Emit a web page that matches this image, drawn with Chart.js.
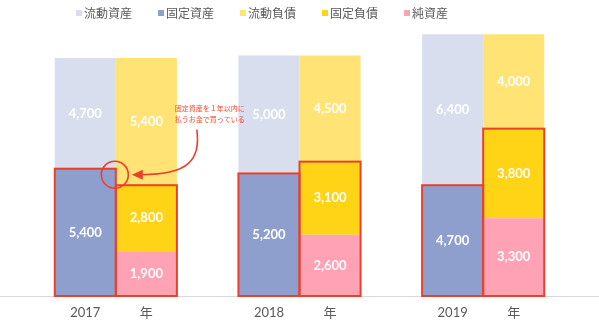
<!DOCTYPE html>
<html>
<head>
<meta charset="utf-8">
<script src="https://cdn.jsdelivr.net/npm/chart.js@4/dist/chart.umd.min.js"></script>
<style>
  html, body { margin: 0; padding: 0; background: #fff; }
  #wrap { width: 599px; height: 328px; }
</style>
</head>
<body>
<div id="wrap"><canvas id="bs"></canvas></div>
<script>
const years = ["2017", "2018", "2019"];
const currentAssets = [4700, 5000, 6400];
const fixedAssets = [5400, 5200, 4700];
const currentLiabilities = [5400, 4500, 4000];
const fixedLiabilities = [2800, 3100, 3800];
const netAssets = [1900, 2600, 3300];
const note = ["固定資産を１年以内に", "払うお金で買っている"];

const COLORS = {
  currentAssets: "#D9DEEE",
  fixedAssets: "#8E9FCE",
  currentLiabilities: "#FFE475",
  fixedLiabilities: "#FFD416",
  netAssets: "#FFA2B6",
};
const RED = "#E8412C";
const GRAY = "#595959";

// bottom-to-top stacking order, legend order is separate
const datasets = [
  { label: "固定資産", data: fixedAssets, backgroundColor: COLORS.fixedAssets, stack: "assets" },
  { label: "流動資産", data: currentAssets, backgroundColor: COLORS.currentAssets, stack: "assets" },
  { label: "純資産", data: netAssets, backgroundColor: COLORS.netAssets, stack: "liab" },
  { label: "固定負債", data: fixedLiabilities, backgroundColor: COLORS.fixedLiabilities, stack: "liab" },
  { label: "流動負債", data: currentLiabilities, backgroundColor: COLORS.currentLiabilities, stack: "liab" },
];
const legendOrder = ["流動資産", "固定資産", "流動負債", "固定負債", "純資産"];

const bsPlugin = {
  id: "bsPlugin",
  beforeDatasetsDraw(chart) {
    const { ctx, chartArea } = chart;
    ctx.save();
    ctx.strokeStyle = "#D9D9D9";
    ctx.lineWidth = 1;
    ctx.beginPath();
    ctx.moveTo(0, Math.round(chartArea.bottom) + 0.5);
    ctx.lineTo(chart.width, Math.round(chartArea.bottom) + 0.5);
    ctx.stroke();
    ctx.restore();
  },
  afterDatasetsDraw(chart) {
    const { ctx, chartArea } = chart;
    ctx.save();

    // values inside segments
    ctx.fillStyle = "#fff";
    ctx.font = "bold 13px Lato, 'Noto Sans CJK JP', sans-serif";
    ctx.textAlign = "center";
    ctx.textBaseline = "middle";
    chart.data.datasets.forEach((ds, i) => {
      chart.getDatasetMeta(i).data.forEach((el, j) => {
        ctx.fillText(ds.data[j].toLocaleString("en-US"), el.x, (el.y + el.base) / 2);
      });
    });

    // category labels under each half
    ctx.fillStyle = GRAY;
    ctx.font = "13px Lato, 'Noto Sans CJK JP', sans-serif";
    const assetMeta = chart.getDatasetMeta(0);
    const liabMeta = chart.getDatasetMeta(2);
    const fixLiabMeta = chart.getDatasetMeta(3);
    years.forEach((y, j) => {
      ctx.fillText(y, assetMeta.data[j].x, chartArea.bottom + 17);
      ctx.fillText("年", liabMeta.data[j].x, chartArea.bottom + 17);
    });

    // red outlines
    ctx.strokeStyle = RED;
    ctx.lineWidth = 2;
    years.forEach((y, j) => {
      const a = assetMeta.data[j];
      ctx.strokeRect(a.x - a.width / 2, a.y, a.width, a.base - a.y);
      const l = fixLiabMeta.data[j];
      const b = liabMeta.data[j];
      ctx.strokeRect(l.x - l.width / 2, l.y, l.width, b.base - l.y);
    });

    // circle + arrow + note (2017)
    const a0 = assetMeta.data[0];
    const cx = a0.x + a0.width / 2 - 1;
    const cy = a0.y + 6;
    ctx.lineWidth = 1.6;
    ctx.beginPath();
    ctx.arc(cx, cy, 13.5, 0, Math.PI * 2);
    ctx.stroke();

    const sx = cx + 82, sy = cy - 45;
    const tipX = cx + 17, tipY = cy;
    ctx.beginPath();
    ctx.moveTo(sx, sy);
    ctx.bezierCurveTo(sx + 4, sy + 30, sx - 8, tipY, tipX + 10, tipY);
    ctx.stroke();
    ctx.fillStyle = RED;
    ctx.beginPath();
    ctx.moveTo(tipX, tipY);
    ctx.lineTo(tipX + 11, tipY - 5);
    ctx.lineTo(tipX + 11, tipY + 5);
    ctx.closePath();
    ctx.fill();

    ctx.font = "7px 'Noto Sans CJK JP', sans-serif";
    ctx.fillStyle = "#F04B30";
    ctx.fillText(note[0], sx + 13, sy - 21);
    ctx.fillText(note[1], sx + 13, sy - 10);

    ctx.restore();
  },
  afterDraw(chart) {
    // legend
    const { ctx } = chart;
    ctx.save();
    ctx.font = "12px 'Noto Sans CJK JP', sans-serif";
    ctx.textAlign = "left";
    ctx.textBaseline = "middle";
    let x = 76;
    const y = 13;
    legendOrder.forEach(name => {
      const ds = chart.data.datasets.find(d => d.label === name);
      ctx.fillStyle = ds.backgroundColor;
      ctx.fillRect(x, y - 3, 6, 6);
      ctx.fillStyle = GRAY;
      ctx.fillText(name, x + 8, y);
      x += 8 + ctx.measureText(name).width + 26;
    });
    ctx.restore();
  },
};

new Chart(document.getElementById("bs"), {
  type: "bar",
  data: { labels: years, datasets },
  options: {
    responsive: true,
    maintainAspectRatio: false,
    animation: false,
    layout: { padding: { left: 24, right: 24, top: 32, bottom: 32 } },
    datasets: { bar: { barPercentage: 1, categoryPercentage: 0.665, borderWidth: 0 } },
    plugins: { legend: { display: false }, tooltip: { enabled: false } },
    scales: {
      x: { stacked: true, display: false },
      y: { stacked: true, display: false, min: 0, max: 11200 },
    },
  },
  plugins: [bsPlugin],
});
</script>
</body>
</html>
